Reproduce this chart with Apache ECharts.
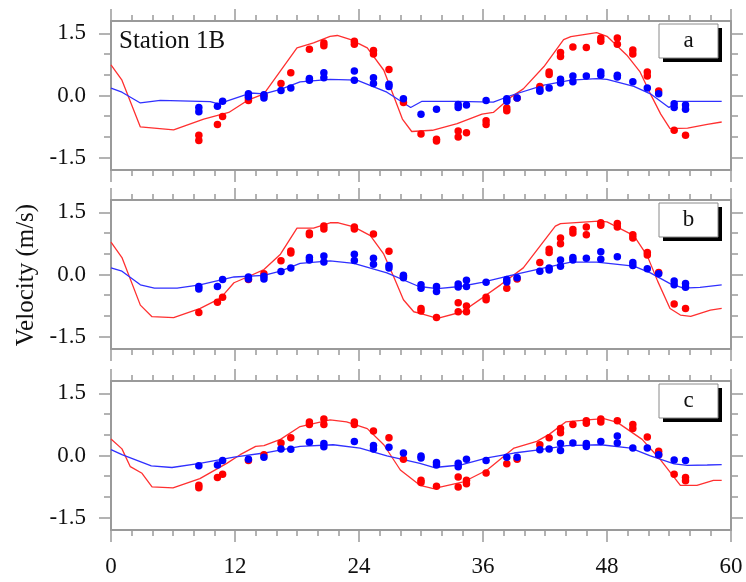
<!DOCTYPE html>
<html>
<head>
<meta charset="utf-8">
<script src="https://cdn.jsdelivr.net/npm/echarts@6/dist/echarts.min.js"></script>
<style>
html,body{margin:0;padding:0;background:#fff;}
#chart{width:746px;height:582px;}
</style>
</head>
<body>
<div id="chart"></div>
<script>
// ---------- data ----------
const panelLabels = ['a', 'b', 'c'];
const xTicks = [0, 12, 24, 36, 48, 60];
const yTickLabels = [-1.5, 0, 1.5];
const yMinorTicks = [-1, -0.5, 0.5, 1];

// observation times (h)
const obsT = [8.5,10.3,10.8,13.3,14.8,16.45,17.4,19.2,20.6,23.55,25.4,26.9,28.3,30.0,31.5,33.6,34.4,36.3,38.3,39.3,41.5,42.4,43.5,44.7,46.0,47.4,49.0,50.5,51.9,53.0,54.5,55.6];

// panel a observations
const redA1 = [-1.09,-0.70,-0.51,-0.12,0.00,0.29,0.55,1.12,1.27,1.31,1.09,0.63,-0.17,-0.93,-1.06,-0.86,-0.90,-0.61,-0.30,-0.06,0.22,0.57,1.04,1.17,1.16,1.39,1.39,1.10,0.57,0.11,-0.84,-0.96];
const redA2 = [-0.96,null,null,-0.06,null,null,null,null,1.20,1.24,1.00,null,null,null,-1.10,-1.00,null,-0.70,-0.37,null,null,0.51,0.94,null,null,1.31,1.24,1.00,0.47,null,null,null];
const blueA1 = [-0.39,-0.26,-0.14,0.04,0.02,0.12,0.18,0.41,0.55,0.59,0.43,0.27,-0.08,-0.45,-0.33,-0.29,-0.23,-0.12,-0.08,-0.06,0.14,0.18,0.39,0.47,0.47,0.57,0.49,0.33,0.18,0.04,-0.20,-0.23];
const blueA2 = [-0.29,null,null,-0.03,-0.06,null,null,0.37,0.43,0.37,0.29,0.22,null,null,null,-0.22,null,null,-0.14,null,0.10,null,0.30,0.33,null,0.49,0.45,null,null,null,-0.29,-0.33];

// panel b observations
const redB1 = [-0.92,-0.67,-0.55,-0.12,0.02,0.33,0.57,1.00,1.17,1.15,0.98,0.56,-0.05,-0.82,-1.04,-0.68,-0.76,-0.55,-0.33,-0.11,0.29,0.61,0.88,1.09,1.15,1.25,1.23,0.96,0.53,0.05,-0.71,-0.82];
const redB2 = [null,null,null,null,null,null,0.52,0.96,1.10,1.10,null,null,null,-0.88,null,-0.90,-0.90,-0.61,null,null,null,0.53,0.74,1.00,0.96,1.19,1.15,0.88,0.47,null,null,null];
const blueB1 = [-0.29,-0.29,-0.12,-0.06,-0.04,0.07,0.16,0.41,0.45,0.49,0.39,0.22,-0.02,-0.25,-0.29,-0.23,-0.14,-0.19,-0.12,-0.08,0.08,0.16,0.35,0.41,0.39,0.55,0.43,0.29,0.14,0.02,-0.16,-0.22];
const blueB2 = [-0.35,null,null,-0.11,-0.11,null,null,0.35,0.30,0.34,0.25,0.16,-0.08,-0.33,-0.41,-0.30,-0.29,null,-0.18,null,null,0.11,0.20,0.35,null,0.37,null,0.22,null,null,-0.25,-0.31];

// panel c observations
const redC1 = [-0.72,-0.53,-0.45,-0.12,0.02,0.30,0.43,0.81,0.88,0.81,0.59,0.43,-0.09,-0.60,-0.74,-0.52,-0.60,-0.42,-0.20,-0.09,0.26,0.43,0.65,0.75,0.84,0.88,0.84,0.75,0.45,0.10,-0.45,-0.53];
const redC2 = [-0.78,null,null,null,null,null,null,0.75,0.75,0.75,null,null,null,-0.65,null,-0.76,-0.68,null,null,null,null,null,0.55,null,0.78,0.81,null,0.65,null,0.02,null,-0.61];
const blueC1 = [-0.25,-0.23,-0.12,-0.09,-0.04,0.16,0.15,0.32,0.29,0.34,0.24,0.20,0.06,-0.01,-0.17,-0.19,-0.09,-0.12,-0.04,-0.04,0.14,0.16,0.29,0.30,0.29,0.34,0.47,0.18,0.18,0.02,-0.11,-0.12];
const blueC2 = [null,null,null,null,null,null,null,null,0.21,null,0.16,null,null,-0.06,-0.23,-0.27,null,null,null,null,null,null,0.12,null,0.22,null,0.30,null,null,null,null,null];

// model lines: panel a
const redLineAT = [0,1.06,2.84,6.06,8.97,11.4,13.2,14.8,18.0,19.6,21.2,21.9,23.2,24.8,26.4,27.4,28.2,29.1,31.1,33.5,35.9,37.0,38.7,39.9,41.9,43.8,44.5,47.0,48.0,49.9,51.2,52.2,53.2,54.1,55.8,57.7,59.1];
const redLineAV = [0.74,0.37,-0.76,-0.83,-0.57,-0.41,-0.12,0.04,1.15,1.27,1.43,1.45,1.35,1.15,0.61,-0.04,-0.57,-0.87,-0.84,-0.68,-0.45,-0.41,-0.04,0.16,0.70,1.35,1.42,1.52,1.43,0.98,0.57,0.04,-0.45,-0.80,-0.79,-0.70,-0.64];
const blueLineAT = [0,1.06,2.84,4.77,9.6,10.4,13.5,14.8,16.4,18.3,21.2,23.8,26.7,29.0,30.1,33.5,37.0,38.7,41.9,44.5,47.0,48.0,50.6,52.2,54.0,54.8,59.1];
const blueLineAV = [0.18,0.08,-0.18,-0.12,-0.15,-0.20,0.06,0.04,0.15,0.33,0.39,0.37,0.08,-0.29,-0.14,-0.14,-0.16,0.00,0.25,0.37,0.41,0.39,0.22,0.04,-0.29,-0.14,-0.14];

// model lines: panel b
const redLineBT = [0,1.06,2.84,3.97,6.06,8.64,10.6,11.9,13.2,14.8,16.4,18.0,19.6,21.2,22.0,23.5,25.1,26.4,27.4,28.3,29.3,29.9,31.6,34.0,35.9,37.7,39.9,43.0,43.5,47.2,48.0,50.6,51.9,52.9,54.1,55.1,56.1,58.0,59.1];
const redLineBV = [0.78,0.41,-0.74,-1.02,-1.04,-0.82,-0.57,-0.20,-0.06,0.12,0.49,1.12,1.12,1.25,1.25,1.15,0.94,0.49,-0.08,-0.61,-0.90,-0.94,-1.06,-0.90,-0.57,-0.25,0.16,1.17,1.23,1.29,1.27,0.94,0.45,-0.16,-0.82,-0.98,-1.01,-0.86,-0.82];
const blueLineBT = [0,1.06,2.84,4.2,6.4,8.6,11.9,14.8,16.4,18.3,21.2,23.5,26.7,29.8,31.6,33.8,35.9,38.7,41.6,44.5,47.0,50.6,52.2,54.1,55.4,57.0,59.1];
const blueLineBV = [0.16,0.08,-0.25,-0.33,-0.33,-0.25,-0.06,-0.02,0.08,0.27,0.33,0.27,0.04,-0.29,-0.34,-0.29,-0.19,-0.02,0.14,0.30,0.30,0.20,0.04,-0.22,-0.33,-0.31,-0.25];

// model lines: panel c
const redLineCT = [0,1.06,1.87,3.0,3.97,6.0,8.6,11.2,12.5,14.0,14.8,16.4,18.3,21.2,22.8,24.8,26.4,28.0,29.9,31.2,34.1,36.4,39.0,41.2,42.4,44.0,46.1,47.7,49.0,51.4,53.2,55.1,56.7,58.3,59.1];
const redLineCV = [0.40,0.16,-0.27,-0.43,-0.76,-0.78,-0.56,-0.19,0.02,0.22,0.24,0.39,0.70,0.86,0.81,0.65,0.26,-0.35,-0.72,-0.80,-0.64,-0.35,0.18,0.34,0.51,0.81,0.86,0.89,0.80,0.39,-0.11,-0.72,-0.72,-0.60,-0.60];
const blueLineCT = [0,1.06,3.9,5.9,8.6,11.9,14.8,18.3,21.5,24.1,26.7,29.9,31.3,33.8,36.4,39.0,41.6,44.1,47.4,50.3,52.2,54.5,55.8,57.7,59.1];
const blueLineCV = [0.14,0.02,-0.25,-0.29,-0.19,-0.04,0.06,0.22,0.26,0.18,-0.01,-0.19,-0.29,-0.23,-0.06,0.06,0.14,0.24,0.26,0.18,-0.01,-0.20,-0.24,-0.23,-0.22];

// ---------- build ----------
const panels = [
  {redObs:[redA1,redA2], blueObs:[blueA1,blueA2], redLine:[redLineAT,redLineAV], blueLine:[blueLineAT,blueLineAV]},
  {redObs:[redB1,redB2], blueObs:[blueB1,blueB2], redLine:[redLineBT,redLineBV], blueLine:[blueLineBT,blueLineBV]},
  {redObs:[redC1,redC2], blueObs:[blueC1,blueC2], redLine:[redLineCT,redLineCV], blueLine:[blueLineCT,blueLineCV]}
];

const FONT = 'Liberation Serif';
const FRAME = '#9a9a9a';
const gridTops = [21, 200, 381];
const gridH = 149;
const gridL = 111, gridW = 620;

function pairs(ts, vs) { return ts.map((t, i) => [t, vs[i]]); }
function obsPairs(arrs) {
  const out = [];
  arrs.forEach(a => a.forEach((v, i) => { if (v !== null) out.push([obsT[i], v]); }));
  return out;
}

const grid = [], xAxis = [], yAxis = [], series = [], graphic = [];

panels.forEach((p, i) => {
  grid.push({left: gridL, top: gridTops[i], width: gridW, height: gridH, show: false});
  ['bottom', 'top'].forEach(pos => {
    xAxis.push({
      gridIndex: i, type: 'value', position: pos, min: 0, max: 60, interval: 12,
      axisLine: {show: true, onZero: false, lineStyle: {color: FRAME, width: 2}},
      axisTick: {show: true, length: 12, lineStyle: {color: FRAME, width: 1.5}},
      minorTick: {show: true, splitNumber: 6, length: 6, lineStyle: {color: FRAME, width: 1.5}},
      splitLine: {show: false}, minorSplitLine: {show: false},
      axisLabel: {show: pos === 'bottom' && i === 2, margin: 25, fontFamily: FONT, fontSize: 23, color: '#111',
        customValues: xTicks}
    });
  });
  ['left', 'right'].forEach(pos => {
    yAxis.push({
      gridIndex: i, type: 'value', position: pos, min: -1.8, max: 1.8,
      axisLine: {show: true, onZero: false, lineStyle: {color: FRAME, width: 2}},
      axisTick: {show: true, length: 12, customValues: yTickLabels, lineStyle: {color: FRAME, width: 1.5}},
      splitLine: {show: false},
      axisLabel: {show: pos === 'left', customValues: yTickLabels, margin: 25, fontFamily: FONT, fontSize: 23, color: '#111',
        formatter: v => Number(v).toFixed(1)}
    });
    yAxis.push({
      gridIndex: i, type: 'value', position: pos, min: -1.8, max: 1.8,
      axisLine: {show: false, onZero: false},
      axisTick: {show: true, length: 7, customValues: yMinorTicks, lineStyle: {color: FRAME, width: 1.5}},
      splitLine: {show: false},
      axisLabel: {show: false}
    });
  });
  const xi = i * 2, yi = i * 4;
  series.push({type: 'line', xAxisIndex: xi, yAxisIndex: yi, data: pairs(p.redLine[0], p.redLine[1]),
    showSymbol: false, symbol: 'none', lineStyle: {color: '#ff3030', width: 1.3}, silent: true, z: 2});
  series.push({type: 'line', xAxisIndex: xi, yAxisIndex: yi, data: pairs(p.blueLine[0], p.blueLine[1]),
    showSymbol: false, symbol: 'none', lineStyle: {color: '#3030ff', width: 1.3}, silent: true, z: 2});
  series.push({type: 'scatter', xAxisIndex: xi, yAxisIndex: yi, data: obsPairs(p.redObs),
    symbol: 'circle', symbolSize: 7.5, itemStyle: {color: '#ff0000', opacity: 1}, silent: true, z: 3});
  series.push({type: 'scatter', xAxisIndex: xi, yAxisIndex: yi, data: obsPairs(p.blueObs),
    symbol: 'circle', symbolSize: 7.5, itemStyle: {color: '#0000ff', opacity: 1}, silent: true, z: 4});

  const bt = gridTops[i] + 3;
  graphic.push({type: 'rect', shape: {x: 663, y: bt + 4, width: 59, height: 34}, style: {fill: '#000'}, z: 10});
  graphic.push({type: 'rect', shape: {x: 659, y: bt, width: 59, height: 34}, style: {fill: '#fff', stroke: '#8a8a8a', lineWidth: 1}, z: 11});
  graphic.push({type: 'text', x: 688.5, y: bt + 17, z: 12,
    style: {text: panelLabels[i], fontFamily: FONT, fontSize: 23, fill: '#111', align: 'center', verticalAlign: 'middle'}});
});

graphic.push({type: 'text', x: 119, y: 41, z: 12,
  style: {text: 'Station 1B', fontFamily: FONT, fontSize: 25, fill: '#111', align: 'left', verticalAlign: 'middle'}});
graphic.push({type: 'text', x: 26, y: 275, rotation: Math.PI / 2, z: 12,
  style: {text: 'Velocity (m/s)', fontFamily: FONT, fontSize: 25, fill: '#111', align: 'center', verticalAlign: 'middle'}});

const chart = echarts.init(document.getElementById('chart'), null, {renderer: 'canvas'});
chart.setOption({
  animation: false,
  backgroundColor: '#fff',
  grid, xAxis, yAxis, series, graphic
});
</script>
</body>
</html>
